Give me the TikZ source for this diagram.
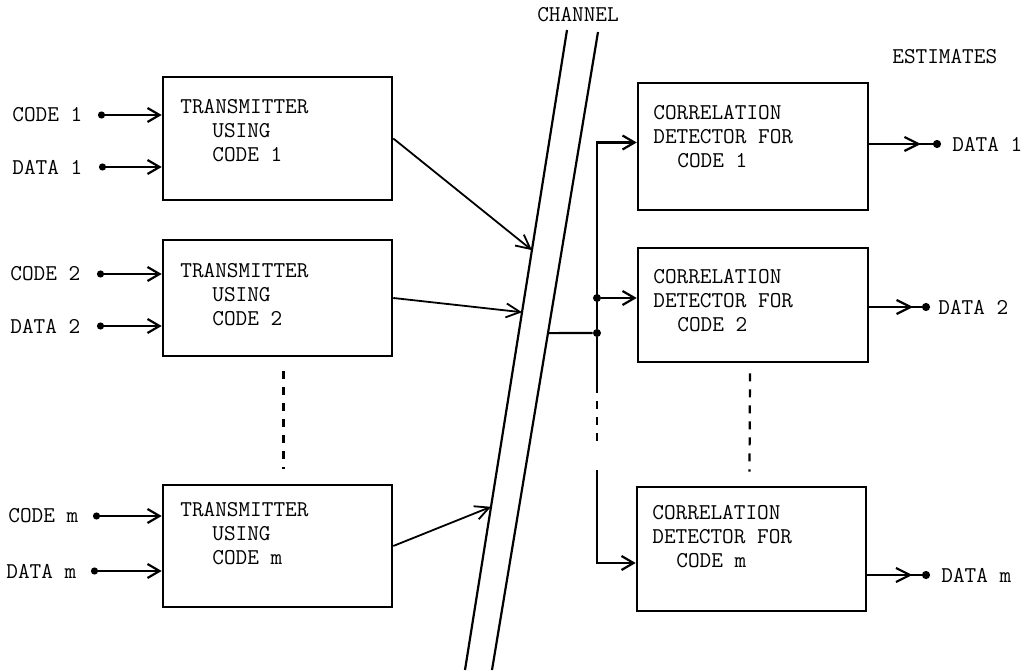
\documentclass[tikz,border=0pt]{standalone}
\usepackage{fontspec}
\usetikzlibrary{arrows.meta,positioning,fit,calc,decorations.markings}

\begin{document}
\begin{tikzpicture}[
		x=0.5pt, y=-0.5pt,
		font=\ttfamily\fontsize{11.3}{12}\selectfont,
		block/.style={
			draw,
			line width=1.3pt,
			inner sep=0pt
		},
		txt/.style={
			inner sep=0pt,
			align=left,
			anchor=base west
		},
		tag/.style={
			inner sep=0pt,
			anchor=west
		},
		dot/.style={
			circle,
			fill=black,
			inner sep=0pt,
			minimum size=4pt
		},
		wire/.style={line width=1.1pt},
		feed/.style={
			wire,
			{Circle[length=3.5pt]}-{Straight Barb[length=6pt,width=7pt]}
		},
		tap/.style={
			wire,
			-{Straight Barb[length=6pt,width=7pt]}
		},
		send/.style={
			line width=0.9pt,
			-{Straight Barb[length=7pt,width=7pt]}
		},
		result/.style={
			wire,
			-{Circle[length=4pt]},
			postaction={decorate},
			decoration={markings,
				mark=at position 0.72 with {\arrow{Straight Barb[length=7pt,width=7pt]}}}
		},
		gap/.style={
			wire,
			dash pattern=on 4pt off 4pt
		}
		]
		\useasboundingbox (0,0) rectangle (1023,672);
		% channel
		\coordinate (chLa) at (567,30);
		\coordinate (chLb) at (465,670);
		\coordinate (chRa) at (598,32);
		\coordinate (chRb) at (492,670);
		\draw[wire] (chLa) -- (chLb);
		\draw[wire] (chRa) -- (chRb);
		\node[inner sep=0pt] (chan) at (578,15) {CHANNEL};
		% transmitters (base = last line)
		\node[block,fit={(163,77) (392,200)}] (t1) {};
		\node[block,fit={(163,240) (392,356)}] (t2) {};
		\node[block,fit={(163,485) (392,607)}] (t3) {};
		\node[txt] (t1txt) at (180,162) {TRANSMITTER\\\hspace*{16pt}USING\\\hspace*{16pt}CODE 1};
		\node[txt] (t2txt) at (180,326) {TRANSMITTER\\\hspace*{16pt}USING\\\hspace*{16pt}CODE 2};
		\node[txt] (t3txt) at (180,565) {TRANSMITTER\\\hspace*{16pt}USING\\\hspace*{16pt}CODE m};
		\draw[gap] ($(t2.south)+(6,14)$) -- ($(t3.north)+(6,-15)$);
		% inputs
		\node[tag] (lc1) at (12,115) {CODE 1};
		\node[tag] (ld1) at (12,167) {DATA 1};
		\node[tag] (lc2) at (10,274) {CODE 2};
		\node[tag] (ld2) at (10,326) {DATA 2};
		\node[tag] (lcm) at (8,516) {CODE m};
		\node[tag] (ldm) at (6,571) {DATA m};
		\coordinate (c1) at (98,115);
		\coordinate (a1) at (99,167);
		\coordinate (c2) at (97,274);
		\coordinate (a2) at (97,326);
		\coordinate (cm) at (93,516);
		\coordinate (am) at (91,571);
		\draw[feed] (c1) -- (c1 -| t1.west);
		\draw[feed] (a1) -- (a1 -| t1.west);
		\draw[feed] (c2) -- (c2 -| t2.west);
		\draw[feed] (a2) -- (a2 -| t2.west);
		\draw[feed] (cm) -- (cm -| t3.west);
		\draw[feed] (am) -- (am -| t3.west);
		% into the channel
		\coordinate (in1) at ($(chLa)!0.344!(chLb)$);
		\coordinate (in2) at ($(chLa)!0.441!(chLb)$);
		\coordinate (inm) at ($(chLa)!0.745!(chLb)$);
		\draw[send] (t1.east) -- (in1);
		\draw[send] (t2.east) -- (in2);
		\draw[send] (t3.east) -- (inm);
		% detectors
		\node[block,fit={(638,83) (868,210)}] (d1) {};
		\node[block,fit={(638,248) (868,362)}] (d2) {};
		\node[block,fit={(637,487) (866,611)}] (d3) {};
		\node[txt] (d1txt) at (653,168) {CORRELATION\\DETECTOR FOR\\\hspace*{12pt}CODE 1};
		\node[txt] (d2txt) at (653,332) {CORRELATION\\DETECTOR FOR\\\hspace*{12pt}CODE 2};
		\node[txt] (d3txt) at (652,568) {CORRELATION\\DETECTOR FOR\\\hspace*{12pt}CODE m};
		\draw[gap] ($(d2.south)+(-3,10)$) -- ($(d3.north)+(-2,-14)$);
		% out of the channel
		\coordinate (rx) at ($(chRa)!0.472!(chRb)$);
		\node[dot] (j1) at (597,333) {};
		\node[dot] (j2) at (597,298) {};
		\coordinate (b1) at (597,385);
		\coordinate (b2) at (597,445);
		\coordinate (b3) at (597,470);
		\coordinate (j3) at (597,563);
		\draw[wire] (rx) -- (j1);
		\draw[tap] (j1) |- ([yshift=2pt]d1.west);
		\draw[tap] (j2) -- (j2 -| d2.west);
		\draw[wire] (j1) -- (b1);
		\draw[gap] (b1) -- (b2);
		\draw[tap] (b3) -- (j3) -- (j3 -| d3.west);
		% estimates
		\node[tag] (est) at (892,57) {ESTIMATES};
		\coordinate (o1) at (941,144);
		\coordinate (o2) at (930,307);
		\coordinate (om) at (930,575);
		\draw[result] (d1.east |- o1) -- (o1);
		\draw[result] (d2.east |- o2) -- (o2);
		\draw[result] (d3.east |- om) -- (om);
		\node[tag] (e1) at (952,144) {DATA 1};
		\node[tag] (e2) at (938,307) {DATA 2};
		\node[tag] (em) at (941,575) {DATA m};
\end{tikzpicture}
\end{document}
